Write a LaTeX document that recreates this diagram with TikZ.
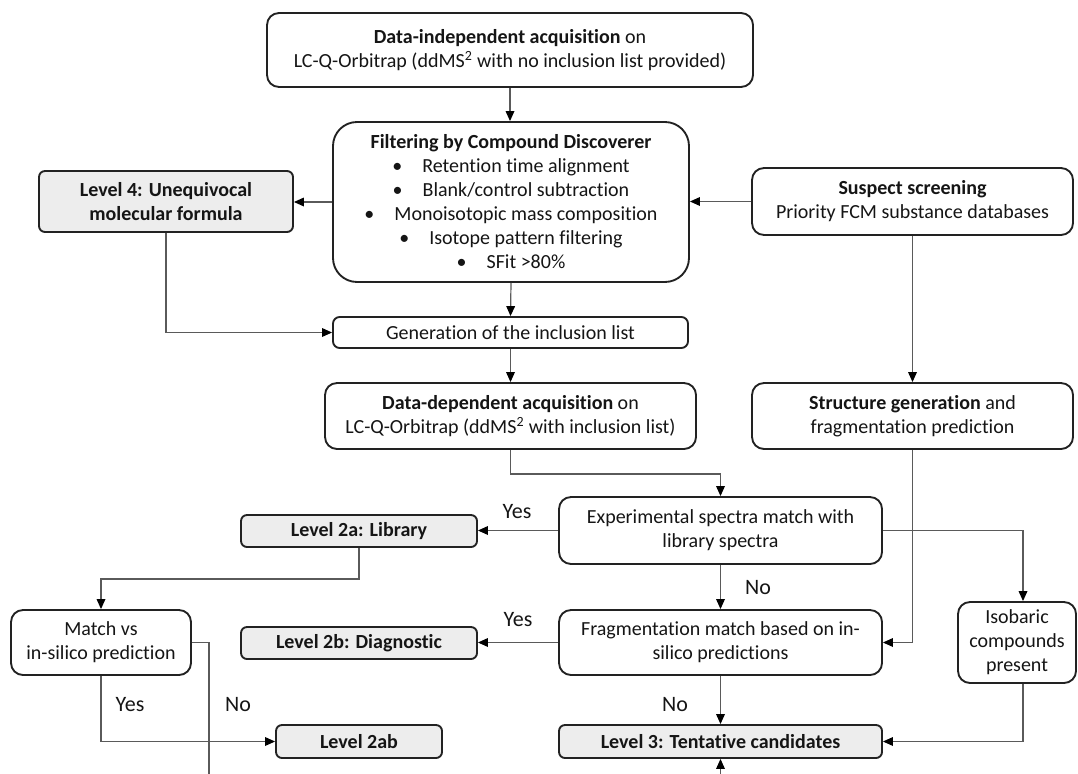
\documentclass[tikz,border=0pt]{standalone}
\usepackage{fontspec}
\setmainfont{Carlito}[Ligatures=NoCommon]
\usetikzlibrary{arrows.meta,calc}
\definecolor{inkline}{HTML}{222222}
\definecolor{wirecol}{HTML}{5A5A5A}
\definecolor{levelfill}{HTML}{EDEDED}
\definecolor{textcol}{HTML}{151515}
\begin{document}
\begin{tikzpicture}[x=0.75pt,y=-0.75pt,
  font=\fontsize{15pt}{18pt}\selectfont,
  sz/.style 2 args={minimum width=#1*0.75pt, minimum height=#2*0.75pt},
  box/.style={draw=inkline, line width=1.4pt, rounded corners=9pt, align=center,
              inner sep=0pt, text=textcol, fill=white},
  lvl/.style={box, fill=levelfill, rounded corners=4.5pt,
              font=\fontsize{15pt}{18pt}\selectfont\bfseries},
  arr/.style={draw=wirecol, line width=0.9pt,
              -{Triangle[length=7.5pt,width=6.5pt,color=black]}},
  wireline/.style={draw=wirecol, line width=0.9pt},
  lbl/.style={inner sep=0pt, text=textcol, font=\fontsize{16.5pt}{19pt}\selectfont}
]
\useasboundingbox (0,0) rectangle (1078,774);

% ---- boxes ----
\node[box, sz={486}{74}] (dia) at (510,50)
  {\textbf{Data-independent acquisition} on\\LC-Q-Orbitrap (ddMS\textsuperscript{2} with no inclusion list provided)};
\node[box, rounded corners=18pt, sz={356}{160}] (filt) at (511,202)
  {\textbf{Filtering by Compound Discoverer}\\
   \textbullet\hspace{1em}Retention time alignment\\
   \textbullet\hspace{1em}Blank/control subtraction\\
   \textbullet\hspace{1em}Monoisotopic mass composition\\
   \textbullet\hspace{1em}Isotope pattern filtering\\
   \textbullet\hspace{1em}SFit >80\%};
\node[lvl, sz={254}{61}] (l4) at (166,201.5) {Level 4: Unequivocal\\molecular formula};
\node[box, sz={321}{67}] (susp) at (912.5,201.5)
  {\textbf{Suspect screening}\\Priority FCM substance databases};
\node[box, rounded corners=5pt, sz={355}{31}] (incl) at (510.5,332.5) {Generation of the inclusion list};
\node[box, sz={371}{66}] (dda) at (510.5,416)
  {\textbf{Data-dependent acquisition} on\\LC-Q-Orbitrap (ddMS\textsuperscript{2} with inclusion list)};
\node[box, sz={321}{66}] (struct) at (912.5,416)
  {\textbf{Structure generation} and\\fragmentation prediction};
\node[box, sz={323}{67}] (exp) at (720.5,530.5) {Experimental spectra match with\\library spectra};
\node[lvl, sz={236}{32}] (l2a) at (359,531) {Level 2a: Library};
\node[box, sz={180}{65}] (match) at (101,642.5) {Match vs\\in-silico prediction};
\node[lvl, sz={236}{32}] (l2b) at (359,643) {Level 2b: Diagnostic};
\node[box, sz={323}{65}] (frag) at (720.5,642.5) {Fragmentation match based on in-\\silico predictions};
\node[box, sz={118}{81}] (iso) at (1017,642.5) {Isobaric\\compounds\\present};
\node[lvl, sz={166}{33}] (l2ab) at (359,741.5) {Level 2ab};
\node[lvl, sz={323}{33}] (l3) at (720.5,741.5) {Level 3: Tentative candidates};

% ---- free ends at the lower edge ----
\coordinate (cut) at (209,774);
\coordinate (feed) at (720.5,774);

% ---- connectors ----
\draw[arr] (dia.south) -- (dia.south |- filt.north);
\draw[arr] (filt.west) -- (filt.west -| l4.east);
\draw[arr] (susp.west) -- (susp.west -| filt.east);
\draw[arr] (filt.south) -- (incl.north);
\draw[arr] (l4.south) |- (incl.west);
\draw[arr] (incl.south) -- (dda.north);
\draw[arr] (dda.south) -- ++(0,24) -| (exp.north);
\draw[arr] (susp.south) -- (struct.north);
\draw[arr] (struct.south) |- (frag.east);
\draw[arr] (exp.west) -- (exp.west -| l2a.east);
\draw[arr] (exp.east) -| ([xshift=4.5pt]iso.north);
\draw[arr] (exp.south) -- (frag.north);
\draw[arr] (frag.west) -- (frag.west -| l2b.east);
\draw[arr] (frag.south) -- (l3.north);
\draw[arr] ([xshift=4.5pt]iso.south) |- (l3.east);
\draw[arr] (l2a.south) -- ++(0,31) -| (match.north);
\draw[wireline] (match.east) -| (cut);
\draw[arr] (match.south) |- (l2ab.west);
\draw[arr] (feed) -- (l3.south);

% ---- branch labels ----
\node[lbl] (yesA) at (517,512) {Yes};
\node[lbl] (noA) at (758,588) {No};
\node[lbl] (yesB) at (518,620) {Yes};
\node[lbl] (noB) at (675,705) {No};
\node[lbl] (yesC) at (130,705) {Yes};
\node[lbl] (noC) at (238,705) {No};
\end{tikzpicture}
\end{document}
